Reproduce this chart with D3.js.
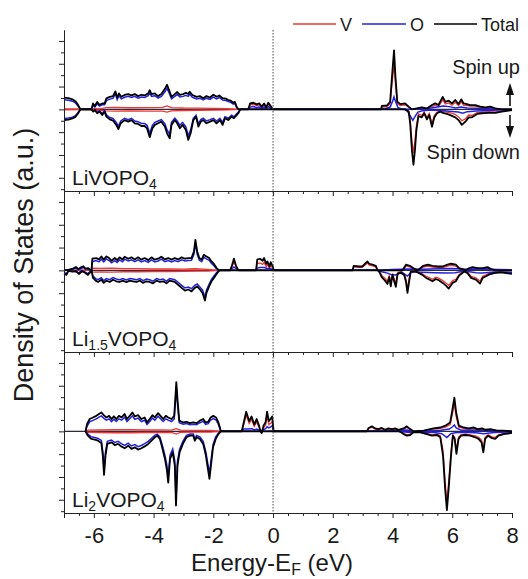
<!DOCTYPE html>
<html>
<head>
<meta charset="utf-8">
<script src="https://cdn.jsdelivr.net/npm/d3@7"></script>
<style>
  body { margin: 0; background: #fff; }
  text { font-family: "Liberation Sans", Arial, sans-serif; fill: #1a1a1a; }
</style>
</head>
<body>
<div id="chart"></div>
<script>
// [energy (eV), DOS (a.u.)] pairs; up = spin up, dn = spin down

// ---- LiVOPO4 ----
var p1TotalUp = [[-7,0.51],[-6.85,0.49],[-6.72,0.44],[-6.62,0.36],[-6.53,0.2],[-6.45,0],[-6.08,0],[-6.03,0.26],[-5.97,0.15],[-5.89,0.32],[-5.81,0.2],[-5.72,0.26],[-5.64,0.26],[-5.58,0.48],[-5.47,0.55],[-5.36,0.58],[-5.28,0.79],[-5.22,0.52],[-5.16,0.7],[-5.08,0.55],[-4.97,0.63],[-4.85,0.67],[-4.74,0.61],[-4.63,0.67],[-4.52,0.58],[-4.41,0.64],[-4.3,0.61],[-4.18,0.7],[-4.13,0.84],[-4.07,0.67],[-3.96,0.7],[-3.85,0.58],[-3.74,0.67],[-3.62,0.9],[-3.55,1.08],[-3.48,0.84],[-3.4,0.55],[-3.29,0.67],[-3.21,0.76],[-3.12,0.64],[-3.01,0.67],[-2.92,0.73],[-2.84,0.67],[-2.79,0.77],[-2.7,0.63],[-2.56,0.55],[-2.45,0.58],[-2.34,0.49],[-2.23,0.58],[-2.11,0.52],[-2,0.64],[-1.89,0.55],[-1.8,0.61],[-1.69,0.49],[-1.58,0.47],[-1.5,0.41],[-1.42,0.38],[-1.33,0.29],[-1.28,0.33],[-1.22,0.12],[-1.16,0],[-0.83,0],[-0.77,0.26],[-0.66,0.29],[-0.55,0.22],[-0.46,0.26],[-0.38,0.12],[-0.3,0.26],[-0.23,0.09],[-0.16,0.29],[-0.08,0.15],[-0.01,0],[3.62,0],[3.64,0.15],[3.81,0.17],[3.92,0.33],[3.98,1.4],[4.05,2.59],[4.1,1.4],[4.16,0.33],[4.26,0.23],[4.42,0.26],[4.54,0.12],[4.65,0],[4.98,0.09],[5.15,0.04],[5.32,0.19],[5.43,0.26],[5.54,0.19],[5.68,0.55],[5.77,0.33],[5.88,0.38],[5.99,0.26],[6.1,0.41],[6.21,0.23],[6.3,0.44],[6.38,0.26],[6.49,0.23],[6.6,0.19],[6.77,0.19],[6.94,0.12],[7.11,0.09],[7.27,0.12],[7.44,0.04],[7.66,0],[8,0]]
var p1TotalDn = [[-7,-0.47],[-6.85,-0.45],[-6.72,-0.4],[-6.62,-0.33],[-6.53,-0.18],[-6.45,0],[-6.08,0],[-6.02,-0.1],[-5.97,-0.03],[-5.89,-0.17],[-5.81,-0.1],[-5.72,-0.25],[-5.64,-0.1],[-5.58,-0.32],[-5.47,-0.44],[-5.36,-0.49],[-5.25,-0.68],[-5.18,-0.87],[-5.1,-0.61],[-4.97,-0.47],[-4.85,-0.54],[-4.74,-0.47],[-4.63,-0.61],[-4.52,-0.64],[-4.41,-0.73],[-4.3,-0.73],[-4.22,-0.83],[-4.13,-1.22],[-4.04,-0.83],[-3.96,-0.68],[-3.85,-0.61],[-3.74,-0.54],[-3.62,-0.76],[-3.55,-1.05],[-3.46,-1.27],[-3.4,-0.68],[-3.29,-0.47],[-3.21,-0.61],[-3.12,-0.83],[-3.03,-0.68],[-2.92,-0.9],[-2.84,-1.34],[-2.76,-1.05],[-2.67,-0.47],[-2.58,-0.32],[-2.5,-0.76],[-2.42,-0.54],[-2.34,-0.47],[-2.23,-0.61],[-2.11,-0.54],[-2,-0.47],[-1.89,-0.61],[-1.78,-0.47],[-1.69,-0.68],[-1.61,-0.39],[-1.5,-0.47],[-1.39,-0.32],[-1.31,-0.39],[-1.22,-0.25],[-1.16,-0.17],[-1.1,0],[4.42,0],[4.54,-0.1],[4.59,-0.6],[4.65,-1.8],[4.7,-2.43],[4.75,-1.8],[4.8,-0.9],[4.87,-0.29],[4.98,-0.35],[5.06,-0.17],[5.15,-0.44],[5.23,-0.25],[5.32,-0.76],[5.4,-0.35],[5.49,-0.17],[5.6,-0.1],[5.71,-0.17],[5.82,-0.2],[5.93,-0.25],[6.1,-0.35],[6.21,-0.47],[6.32,-0.68],[6.44,-0.54],[6.55,-0.35],[6.66,-0.35],[6.83,-0.2],[6.99,-0.17],[7.22,-0.15],[7.44,-0.15],[7.66,-0.1],[7.89,-0.06],[8,-0.03]]
var p1OUp = [[-7,0.42],[-6.85,0.4],[-6.72,0.36],[-6.62,0.29],[-6.53,0.15],[-6.45,0],[-6.08,0],[-6.03,0.18],[-5.97,0.1],[-5.89,0.24],[-5.81,0.14],[-5.72,0.2],[-5.64,0.2],[-5.58,0.38],[-5.47,0.45],[-5.36,0.48],[-5.28,0.68],[-5.22,0.43],[-5.16,0.6],[-5.08,0.46],[-4.97,0.53],[-4.85,0.57],[-4.74,0.52],[-4.63,0.57],[-4.52,0.49],[-4.41,0.54],[-4.3,0.52],[-4.18,0.6],[-4.13,0.72],[-4.07,0.57],[-3.96,0.6],[-3.85,0.49],[-3.74,0.57],[-3.62,0.77],[-3.55,0.92],[-3.48,0.72],[-3.4,0.46],[-3.29,0.57],[-3.21,0.65],[-3.12,0.54],[-3.01,0.57],[-2.92,0.62],[-2.84,0.57],[-2.79,0.66],[-2.7,0.53],[-2.56,0.46],[-2.45,0.49],[-2.34,0.41],[-2.23,0.49],[-2.11,0.44],[-2,0.54],[-1.89,0.46],[-1.8,0.52],[-1.69,0.41],[-1.58,0.39],[-1.5,0.34],[-1.42,0.31],[-1.33,0.23],[-1.28,0.26],[-1.22,0.08],[-1.16,0],[-0.83,0],[-0.77,0.1],[-0.66,0.12],[-0.55,0.08],[-0.46,0.1],[-0.38,0.05],[-0.3,0.1],[-0.23,0.04],[-0.16,0.12],[-0.08,0.06],[-0.01,0],[3.62,0],[3.75,0.03],[3.92,0.1],[4,0.35],[4.05,0.55],[4.1,0.35],[4.18,0.08],[4.3,0.02],[4.6,0],[5,0.02],[5.3,0.06],[5.5,0.1],[5.7,0.15],[5.9,0.12],[6.1,0.06],[6.3,0.1],[6.5,0.06],[6.8,0.05],[7.2,0.03],[7.6,0.01],[8,0]]
var p1ODn = [[-7,-0.4],[-6.85,-0.38],[-6.72,-0.34],[-6.62,-0.28],[-6.53,-0.14],[-6.45,0],[-6.08,0],[-6.02,-0.06],[-5.97,-0.02],[-5.89,-0.12],[-5.81,-0.06],[-5.72,-0.18],[-5.64,-0.06],[-5.58,-0.24],[-5.47,-0.36],[-5.36,-0.4],[-5.25,-0.57],[-5.18,-0.74],[-5.1,-0.51],[-4.97,-0.39],[-4.85,-0.45],[-4.74,-0.39],[-4.63,-0.51],[-4.52,-0.54],[-4.41,-0.62],[-4.3,-0.62],[-4.22,-0.7],[-4.13,-1.05],[-4.04,-0.7],[-3.96,-0.57],[-3.85,-0.51],[-3.74,-0.45],[-3.62,-0.64],[-3.55,-0.9],[-3.46,-1.1],[-3.4,-0.57],[-3.29,-0.39],[-3.21,-0.51],[-3.12,-0.7],[-3.03,-0.57],[-2.92,-0.77],[-2.84,-1.16],[-2.76,-0.9],[-2.67,-0.39],[-2.58,-0.26],[-2.5,-0.64],[-2.42,-0.45],[-2.34,-0.39],[-2.23,-0.51],[-2.11,-0.45],[-2,-0.39],[-1.89,-0.51],[-1.78,-0.39],[-1.69,-0.57],[-1.61,-0.32],[-1.5,-0.39],[-1.39,-0.26],[-1.31,-0.32],[-1.22,-0.19],[-1.16,-0.12],[-1.1,0],[4.4,0],[4.5,-0.08],[4.6,-0.3],[4.68,-0.48],[4.76,-0.3],[4.85,-0.12],[5,-0.06],[5.2,-0.04],[5.5,-0.03],[5.9,-0.08],[6.2,-0.12],[6.35,-0.17],[6.5,-0.1],[6.8,-0.07],[7.2,-0.05],[7.6,-0.03],[8,-0.01]]
var p1VUp = [[-7,0.02],[-6.45,0.01],[-6.1,0],[-5.95,0.04],[-5.8,0.02],[-5.6,0.08],[-5.3,0.09],[-4.8,0.07],[-4.2,0.08],[-3.7,0.09],[-3.55,0.15],[-3.4,0.08],[-3,0.06],[-2.5,0.05],[-2,0.04],[-1.5,0.03],[-1.16,0],[-0.83,0],[-0.77,0.2],[-0.66,0.22],[-0.55,0.17],[-0.46,0.2],[-0.38,0.08],[-0.3,0.2],[-0.23,0.06],[-0.16,0.22],[-0.08,0.1],[-0.01,0],[3.62,0],[3.64,0.1],[3.81,0.12],[3.92,0.25],[3.98,1.1],[4.05,1.95],[4.1,1.1],[4.16,0.25],[4.26,0.17],[4.42,0.2],[4.54,0.09],[4.65,0],[4.98,0.06],[5.15,0.02],[5.32,0.12],[5.43,0.18],[5.54,0.12],[5.68,0.42],[5.77,0.24],[5.88,0.28],[5.99,0.18],[6.1,0.3],[6.21,0.17],[6.3,0.33],[6.38,0.19],[6.49,0.17],[6.6,0.14],[6.77,0.14],[6.94,0.09],[7.11,0.06],[7.27,0.09],[7.44,0.03],[7.66,0],[8,0]]
var p1VDn = [[-7,-0.02],[-6.45,-0.01],[-6.1,0],[-5.95,-0.04],[-5.8,-0.03],[-5.6,-0.07],[-5.3,-0.08],[-4.8,-0.07],[-4.2,-0.08],[-3.7,-0.08],[-3.55,-0.12],[-3.4,-0.07],[-3,-0.05],[-2.5,-0.04],[-2,-0.03],[-1.5,-0.02],[-1.1,0],[4.42,0],[4.54,-0.06],[4.59,-0.45],[4.65,-1.4],[4.7,-1.92],[4.75,-1.4],[4.8,-0.7],[4.87,-0.2],[4.98,-0.27],[5.06,-0.12],[5.15,-0.35],[5.23,-0.18],[5.32,-0.62],[5.4,-0.27],[5.49,-0.12],[5.6,-0.06],[5.71,-0.1],[5.82,-0.12],[5.93,-0.15],[6.1,-0.22],[6.21,-0.33],[6.32,-0.5],[6.44,-0.42],[6.55,-0.25],[6.66,-0.27],[6.83,-0.14],[6.99,-0.12],[7.22,-0.1],[7.44,-0.11],[7.66,-0.07],[7.89,-0.04],[8,-0.02]]

// ---- Li1.5VOPO4 ----
var p2TotalUp = [[-7,0],[-6.85,0.02],[-6.7,0.08],[-6.6,0.15],[-6.52,0.05],[-6.45,0.12],[-6.35,0.18],[-6.28,0.06],[-6.2,0.1],[-6.12,0.02],[-6.08,0],[-6.05,0.51],[-5.92,0.54],[-5.83,0.48],[-5.75,0.61],[-5.67,0.47],[-5.58,0.61],[-5.49,0.54],[-5.41,0.42],[-5.3,0.54],[-5.22,0.45],[-5.14,0.57],[-5.04,0.48],[-4.97,0.6],[-4.85,0.51],[-4.74,0.57],[-4.63,0.48],[-4.52,0.57],[-4.41,0.47],[-4.3,0.54],[-4.18,0.45],[-4.07,0.57],[-3.96,0.47],[-3.85,0.51],[-3.74,0.6],[-3.62,0.48],[-3.51,0.54],[-3.4,0.47],[-3.29,0.54],[-3.18,0.48],[-3.06,0.57],[-2.95,0.51],[-2.84,0.54],[-2.73,0.54],[-2.65,0.83],[-2.6,1.34],[-2.54,0.83],[-2.47,0.54],[-2.39,0.47],[-2.32,0.68],[-2.23,0.61],[-2.14,0.54],[-2.06,0.39],[-1.98,0.28],[-1.89,0.1],[-1.8,0],[-1.44,0],[-1.38,0.2],[-1.31,0.51],[-1.24,0.2],[-1.16,0],[-0.57,0],[-0.53,0.47],[-0.44,0.51],[-0.35,0.42],[-0.3,0.54],[-0.23,0.28],[-0.19,0.39],[-0.12,0.17],[-0.08,0.36],[-0.01,0.17],[0.02,0],[2.66,0],[2.7,0.2],[2.88,0.17],[2.99,0.17],[3.08,0.29],[3.16,0.39],[3.22,0.29],[3.33,0.25],[3.44,0.2],[3.5,0],[4.34,0],[4.38,0.1],[4.45,0.25],[4.58,0.2],[4.69,0.1],[4.84,0],[5.03,0.2],[5.18,0.25],[5.34,0.2],[5.51,0.17],[5.68,0.17],[5.84,0.25],[5.96,0.29],[6.12,0.25],[6.23,0.1],[6.46,0],[6.57,0.1],[6.68,0.14],[6.85,0.1],[7.02,0.1],[7.18,0.14],[7.3,0.06],[7.46,0],[8,0]]
var p2TotalDn = [[-7,-0.15],[-6.92,-0.2],[-6.85,-0.02],[-6.72,-0.06],[-6.6,-0.02],[-6.5,-0.16],[-6.4,-0.04],[-6.3,-0.1],[-6.2,-0.2],[-6.12,-0.08],[-6.08,0],[-6.03,-0.33],[-5.94,-0.45],[-5.86,-0.51],[-5.75,-0.41],[-5.67,-0.55],[-5.58,-0.45],[-5.47,-0.51],[-5.36,-0.41],[-5.25,-0.48],[-5.14,-0.51],[-5.03,-0.45],[-4.91,-0.52],[-4.8,-0.45],[-4.69,-0.48],[-4.57,-0.51],[-4.46,-0.45],[-4.35,-0.55],[-4.24,-0.48],[-4.13,-0.51],[-4.02,-0.57],[-3.9,-0.45],[-3.79,-0.51],[-3.68,-0.48],[-3.57,-0.57],[-3.46,-0.45],[-3.29,-0.51],[-3.18,-0.63],[-3.06,-0.77],[-2.95,-0.89],[-2.84,-0.84],[-2.73,-0.92],[-2.62,-0.77],[-2.54,-0.7],[-2.45,-0.84],[-2.36,-0.99],[-2.28,-1.32],[-2.23,-0.99],[-2.14,-0.7],[-2.06,-0.48],[-1.98,-0.33],[-1.89,-0.16],[-1.8,0],[3.5,0],[3.55,-0.05],[3.64,-0.3],[3.75,-0.45],[3.83,-0.6],[3.89,-0.3],[3.94,-0.7],[4,-0.2],[4.06,-0.5],[4.11,-0.72],[4.17,-0.15],[4.28,-0.1],[4.39,-0.2],[4.45,-0.5],[4.5,-0.99],[4.56,-0.45],[4.61,-0.05],[4.78,-0.05],[5,-0.2],[5.12,-0.33],[5.23,-0.4],[5.34,-0.48],[5.45,-0.38],[5.56,-0.44],[5.68,-0.55],[5.79,-0.67],[5.88,-0.8],[6.01,-0.55],[6.12,-0.48],[6.23,-0.23],[6.4,-0.05],[6.51,-0.12],[6.63,-0.33],[6.79,-0.41],[6.93,-0.58],[7.02,-0.33],[7.13,-0.26],[7.22,-0.19],[7.4,-0.12],[7.63,-0.09],[7.8,-0.12],[8,-0.15]]
var p2OUp = [[-7,0],[-6.7,0.05],[-6.6,0.1],[-6.52,0.03],[-6.35,0.12],[-6.2,0.06],[-6.08,0],[-6.05,0.38],[-5.92,0.43],[-5.83,0.37],[-5.75,0.49],[-5.67,0.37],[-5.58,0.5],[-5.49,0.43],[-5.41,0.33],[-5.3,0.43],[-5.22,0.35],[-5.14,0.46],[-5.04,0.38],[-4.97,0.49],[-4.85,0.41],[-4.74,0.46],[-4.63,0.38],[-4.52,0.46],[-4.41,0.37],[-4.3,0.43],[-4.18,0.35],[-4.07,0.46],[-3.96,0.37],[-3.85,0.41],[-3.74,0.49],[-3.62,0.38],[-3.51,0.43],[-3.4,0.37],[-3.29,0.43],[-3.18,0.38],[-3.06,0.46],[-2.95,0.41],[-2.84,0.43],[-2.73,0.44],[-2.65,0.7],[-2.6,1.18],[-2.54,0.7],[-2.47,0.44],[-2.39,0.38],[-2.32,0.57],[-2.23,0.5],[-2.14,0.44],[-2.06,0.3],[-1.98,0.2],[-1.89,0.06],[-1.8,0],[-1.44,0],[-1.31,0.15],[-1.16,0],[-0.57,0],[-0.53,0.1],[-0.44,0.12],[-0.3,0.12],[-0.19,0.08],[-0.08,0.08],[0.02,0],[2.66,0],[3.16,0.03],[3.5,0],[4,0.04],[4.5,0.06],[5,0.05],[5.5,0.07],[6,0.08],[6.5,0.05],[7,0.06],[7.5,0.04],[8,0.02]]
var p2ODn = [[-7,-0.1],[-6.92,-0.14],[-6.85,0],[-6.5,-0.1],[-6.4,0],[-6.2,-0.14],[-6.08,0],[-6.03,-0.25],[-5.94,-0.36],[-5.86,-0.41],[-5.75,-0.32],[-5.67,-0.45],[-5.58,-0.36],[-5.47,-0.41],[-5.36,-0.32],[-5.25,-0.38],[-5.14,-0.41],[-5.03,-0.36],[-4.91,-0.42],[-4.8,-0.36],[-4.69,-0.38],[-4.57,-0.41],[-4.46,-0.36],[-4.35,-0.45],[-4.24,-0.38],[-4.13,-0.41],[-4.02,-0.47],[-3.9,-0.36],[-3.79,-0.41],[-3.68,-0.38],[-3.57,-0.47],[-3.46,-0.36],[-3.29,-0.41],[-3.18,-0.52],[-3.06,-0.66],[-2.95,-0.77],[-2.84,-0.73],[-2.73,-0.8],[-2.62,-0.66],[-2.54,-0.6],[-2.45,-0.73],[-2.36,-0.87],[-2.28,-1.18],[-2.23,-0.87],[-2.14,-0.6],[-2.06,-0.39],[-1.98,-0.25],[-1.89,-0.1],[-1.8,0],[3.5,0],[3.64,-0.06],[3.83,-0.12],[3.94,-0.18],[4.11,-0.2],[4.3,-0.08],[4.5,-0.25],[4.65,-0.06],[5,-0.08],[5.4,-0.1],[5.8,-0.12],[6.1,-0.1],[6.4,-0.03],[6.8,-0.1],[7,-0.12],[7.4,-0.07],[8,-0.08]]
var p2VUp = [[-7,0],[-6.1,0],[-6.05,0.1],[-5.8,0.09],[-5.4,0.1],[-5,0.08],[-4.5,0.08],[-4,0.06],[-3.5,0.06],[-3,0.05],[-2.6,0.07],[-2.2,0.04],[-1.8,0],[-1.44,0],[-1.31,0.35],[-1.16,0],[-0.57,0],[-0.53,0.3],[-0.44,0.33],[-0.35,0.26],[-0.3,0.35],[-0.23,0.16],[-0.19,0.25],[-0.12,0.1],[-0.08,0.22],[-0.01,0.1],[0.02,0],[2.66,0],[2.7,0.15],[2.88,0.13],[2.99,0.13],[3.08,0.23],[3.16,0.32],[3.22,0.23],[3.33,0.2],[3.44,0.15],[3.5,0],[4.34,0],[4.38,0.06],[4.45,0.2],[4.58,0.15],[4.69,0.06],[4.84,0],[5.03,0.14],[5.18,0.19],[5.34,0.14],[5.51,0.12],[5.68,0.12],[5.84,0.19],[5.96,0.22],[6.12,0.19],[6.23,0.06],[6.46,0],[6.57,0.06],[6.68,0.1],[6.85,0.06],[7.02,0.06],[7.18,0.1],[7.3,0.03],[7.46,0],[8,0]]
var p2VDn = [[-7,0],[-6.1,0],[-6.03,-0.08],[-5.8,-0.07],[-5.4,-0.08],[-5,-0.06],[-4.5,-0.06],[-4,-0.05],[-3.5,-0.05],[-3,-0.04],[-2.5,-0.03],[-2.2,-0.03],[-1.8,0],[3.5,0],[3.55,-0.03],[3.64,-0.22],[3.75,-0.35],[3.83,-0.47],[3.89,-0.22],[3.94,-0.55],[4,-0.14],[4.06,-0.4],[4.11,-0.58],[4.17,-0.1],[4.28,-0.06],[4.39,-0.15],[4.45,-0.4],[4.5,-0.8],[4.56,-0.35],[4.61,-0.03],[4.78,-0.03],[5,-0.15],[5.12,-0.26],[5.23,-0.32],[5.34,-0.39],[5.45,-0.3],[5.56,-0.35],[5.68,-0.45],[5.79,-0.55],[5.88,-0.66],[6.01,-0.45],[6.12,-0.39],[6.23,-0.18],[6.4,-0.03],[6.51,-0.08],[6.63,-0.26],[6.79,-0.33],[6.93,-0.47],[7.02,-0.26],[7.13,-0.2],[7.22,-0.14],[7.4,-0.08],[7.63,-0.06],[7.8,-0.08],[8,-0.1]]

// ---- Li2VOPO4 ----
var p3TotalUp = [[-6.28,0],[-6.23,0.32],[-6.14,0.54],[-6.03,0.61],[-5.92,0.68],[-5.83,0.76],[-5.75,0.83],[-5.67,0.71],[-5.58,0.61],[-5.49,0.68],[-5.41,0.54],[-5.33,0.66],[-5.25,0.54],[-5.16,0.68],[-5.07,0.61],[-4.97,0.76],[-4.89,0.54],[-4.8,0.68],[-4.71,0.83],[-4.63,0.66],[-4.52,0.71],[-4.41,0.54],[-4.3,0.61],[-4.22,0.39],[-4.13,0.54],[-4.04,0.71],[-3.96,0.61],[-3.85,0.8],[-3.77,0.68],[-3.68,0.54],[-3.59,0.68],[-3.51,0.61],[-3.4,0.54],[-3.31,0.68],[-3.27,1.5],[-3.24,2.16],[-3.2,1.4],[-3.14,0.47],[-3.01,0.39],[-2.9,0.42],[-2.79,0.36],[-2.67,0.39],[-2.56,0.36],[-2.45,0.47],[-2.34,0.54],[-2.26,0.39],[-2.17,0.42],[-2.09,0.61],[-2,0.68],[-1.91,0.61],[-1.83,0.39],[-1.78,0.17],[-1.75,0],[-1.05,0],[-0.98,0.4],[-0.9,0.86],[-0.8,0.45],[-0.72,0.65],[-0.63,0.3],[-0.55,0.54],[-0.47,0.25],[-0.42,0],[-0.38,-0.07],[-0.32,0.25],[-0.25,0.4],[-0.2,0.86],[-0.14,0.45],[-0.08,0.55],[-0.03,0.65],[0.02,0],[3.14,0],[3.2,0.15],[3.31,0.22],[3.42,0.13],[3.53,0.1],[3.64,0.15],[3.75,0.07],[3.86,0.13],[3.98,0.1],[4.09,0.13],[4.2,0.07],[4.37,0.13],[4.48,0.22],[4.59,0.1],[4.7,0],[5.04,0.03],[5.37,0.13],[5.6,0.17],[5.77,0.25],[5.93,0.39],[6.01,1],[6.07,1.48],[6.13,0.83],[6.22,0.25],[6.38,0.17],[6.55,0.13],[6.72,0.17],[6.85,0.1],[7,0.13],[7.11,0.07],[7.28,0.1],[7.5,0.03],[7.72,0.03],[8,0]]
var p3TotalDn = [[-6.28,0],[-6.2,-0.19],[-6.09,-0.33],[-5.97,-0.36],[-5.86,-0.41],[-5.75,-0.51],[-5.7,-1.06],[-5.66,-1.91],[-5.61,-1.06],[-5.55,-0.55],[-5.41,-0.48],[-5.3,-0.6],[-5.19,-0.55],[-5.08,-0.66],[-4.97,-0.74],[-4.85,-0.63],[-4.74,-0.77],[-4.63,-0.7],[-4.52,-0.8],[-4.41,-0.74],[-4.3,-0.66],[-4.18,-0.55],[-4.07,-0.41],[-3.96,-0.26],[-3.88,-0.19],[-3.79,-0.33],[-3.7,-0.77],[-3.62,-1.21],[-3.56,-1.65],[-3.51,-2.25],[-3.45,-1.21],[-3.36,-0.92],[-3.29,-1.5],[-3.25,-3.25],[-3.2,-1.5],[-3.13,-0.92],[-3.02,-0.55],[-2.9,-0.26],[-2.78,-0.19],[-2.67,-0.19],[-2.62,-0.41],[-2.56,-0.26],[-2.45,-0.33],[-2.34,-0.55],[-2.25,-1.06],[-2.18,-1.65],[-2.13,-2.08],[-2.08,-1.5],[-2.01,-0.7],[-1.92,-0.33],[-1.83,-0.12],[-1.75,0],[4.2,0],[4.26,-0.02],[4.37,-0.12],[4.48,-0.19],[4.59,-0.16],[4.7,-0.04],[4.93,-0.04],[5.15,-0.12],[5.32,-0.19],[5.49,-0.16],[5.6,-0.26],[5.69,-1.06],[5.76,-2.5],[5.82,-3.46],[5.88,-2.5],[5.96,-1.06],[6.02,-0.19],[6.08,-0.33],[6.14,-0.99],[6.21,-0.33],[6.29,-0.19],[6.44,-0.16],[6.6,-0.19],[6.77,-0.26],[6.88,-0.33],[6.98,-0.48],[7.04,-0.92],[7.1,-0.33],[7.2,-0.19],[7.33,-0.3],[7.44,-0.33],[7.55,-0.19],[7.72,-0.12],[8,-0.07]]
var p3OUp = [[-6.28,0],[-6.23,0.22],[-6.14,0.42],[-6.03,0.48],[-5.92,0.55],[-5.83,0.62],[-5.75,0.68],[-5.67,0.58],[-5.58,0.49],[-5.49,0.55],[-5.41,0.43],[-5.33,0.53],[-5.25,0.43],[-5.16,0.55],[-5.07,0.49],[-4.97,0.62],[-4.89,0.43],[-4.8,0.55],[-4.71,0.68],[-4.63,0.53],[-4.52,0.58],[-4.41,0.43],[-4.3,0.49],[-4.22,0.3],[-4.13,0.43],[-4.04,0.58],[-3.96,0.49],[-3.85,0.66],[-3.77,0.55],[-3.68,0.43],[-3.59,0.55],[-3.51,0.49],[-3.4,0.43],[-3.31,0.55],[-3.27,1.3],[-3.24,1.95],[-3.2,1.2],[-3.14,0.38],[-3.01,0.31],[-2.9,0.34],[-2.79,0.29],[-2.67,0.31],[-2.56,0.29],[-2.45,0.38],[-2.34,0.44],[-2.26,0.31],[-2.17,0.34],[-2.09,0.5],[-2,0.56],[-1.91,0.5],[-1.83,0.3],[-1.78,0.12],[-1.75,0],[-1.05,0],[-0.98,0.1],[-0.9,0.1],[-0.8,0.1],[-0.72,0.12],[-0.63,0.06],[-0.55,0.1],[-0.47,0.05],[-0.42,0],[-0.32,0.08],[-0.25,0.12],[-0.2,0.2],[-0.14,0.15],[-0.08,0.2],[-0.03,0.25],[0.02,0],[3.14,0],[3.5,0.03],[4,0.04],[4.48,0.06],[4.7,0],[5.2,0.02],[5.6,0.05],[5.9,0.1],[6.01,0.2],[6.07,0.28],[6.13,0.15],[6.3,0.05],[6.6,0.06],[7,0.05],[7.5,0.03],[8,0.01]]
var p3ODn = [[-6.28,0],[-6.2,-0.12],[-6.09,-0.24],[-5.97,-0.27],[-5.86,-0.31],[-5.75,-0.4],[-5.7,-0.9],[-5.66,-1.7],[-5.61,-0.9],[-5.55,-0.44],[-5.41,-0.38],[-5.3,-0.49],[-5.19,-0.44],[-5.08,-0.54],[-4.97,-0.62],[-4.85,-0.52],[-4.74,-0.64],[-4.63,-0.58],[-4.52,-0.67],[-4.41,-0.62],[-4.3,-0.54],[-4.18,-0.44],[-4.07,-0.31],[-3.96,-0.18],[-3.88,-0.12],[-3.79,-0.24],[-3.7,-0.64],[-3.62,-1.05],[-3.56,-1.45],[-3.51,-2],[-3.45,-1.05],[-3.36,-0.78],[-3.29,-1.3],[-3.25,-2.95],[-3.2,-1.3],[-3.13,-0.78],[-3.02,-0.44],[-2.9,-0.18],[-2.78,-0.12],[-2.67,-0.12],[-2.62,-0.32],[-2.56,-0.18],[-2.45,-0.24],[-2.34,-0.44],[-2.25,-0.9],[-2.18,-1.45],[-2.13,-1.85],[-2.08,-1.3],[-2.01,-0.58],[-1.92,-0.24],[-1.83,-0.07],[-1.75,0],[4.2,0],[4.5,-0.04],[5,-0.03],[5.4,-0.05],[5.65,-0.1],[5.82,-0.27],[5.95,-0.1],[6.1,-0.06],[6.3,-0.04],[6.8,-0.06],[7.05,-0.1],[7.4,-0.05],[8,-0.03]]
var p3VUp = [[-6.28,0],[-6.2,0.05],[-5.8,0.06],[-5.3,0.07],[-4.8,0.07],[-4.3,0.06],[-3.8,0.06],[-3.4,0.05],[-3.24,0.12],[-3.1,0.05],[-2.6,0.04],[-2.1,0.04],[-1.75,0],[-1.05,0],[-0.98,0.3],[-0.9,0.72],[-0.8,0.35],[-0.72,0.52],[-0.63,0.22],[-0.55,0.42],[-0.47,0.18],[-0.42,0],[-0.38,-0.05],[-0.32,0.15],[-0.25,0.28],[-0.2,0.65],[-0.14,0.3],[-0.08,0.36],[-0.03,0.42],[0.02,0],[3.14,0],[3.2,0.12],[3.31,0.18],[3.42,0.1],[3.53,0.08],[3.64,0.12],[3.75,0.05],[3.86,0.1],[3.98,0.07],[4.09,0.1],[4.2,0.05],[4.37,0.1],[4.48,0.17],[4.59,0.07],[4.7,0],[5.04,0.02],[5.37,0.1],[5.6,0.13],[5.77,0.18],[5.93,0.3],[6.01,0.8],[6.07,1.2],[6.13,0.65],[6.22,0.18],[6.38,0.13],[6.55,0.1],[6.72,0.13],[6.85,0.07],[7,0.1],[7.11,0.05],[7.28,0.07],[7.5,0.02],[7.72,0.02],[8,0]]
var p3VDn = [[-6.28,0],[-6.2,-0.04],[-5.8,-0.05],[-5.3,-0.06],[-4.8,-0.06],[-4.3,-0.05],[-3.8,-0.05],[-3.4,-0.05],[-3.24,-0.12],[-3.1,-0.04],[-2.6,-0.03],[-2.1,-0.03],[-1.75,0],[4.2,0],[4.26,-0.01],[4.37,-0.09],[4.48,-0.15],[4.59,-0.12],[4.7,-0.03],[4.93,-0.03],[5.15,-0.09],[5.32,-0.15],[5.49,-0.12],[5.6,-0.2],[5.69,-0.85],[5.76,-2.2],[5.82,-3.15],[5.88,-2.2],[5.96,-0.85],[6.02,-0.15],[6.08,-0.26],[6.14,-0.8],[6.21,-0.26],[6.29,-0.15],[6.44,-0.12],[6.6,-0.15],[6.77,-0.2],[6.88,-0.26],[6.98,-0.38],[7.04,-0.75],[7.1,-0.26],[7.2,-0.15],[7.33,-0.24],[7.44,-0.26],[7.55,-0.15],[7.72,-0.09],[8,-0.05]]

var xTickLabels = [-6, -4, -2, 0, 2, 4, 6, 8]
var legendNames = ["V", "O", "Total"]
var colors = {V: "#ee3535", O: "#2020dd", Total: "#000000"}

var panels = [
  {parts: [["Li", false], ["VOPO", false], ["4", true]], total: [p1TotalUp, p1TotalDn], o: [p1OUp, p1ODn], v: [p1VUp, p1VDn]},
  {parts: [["Li", false], ["1.5", true], ["VOPO", false], ["4", true]], total: [p2TotalUp, p2TotalDn], o: [p2OUp, p2ODn], v: [p2VUp, p2VDn]},
  {parts: [["Li", false], ["2", true], ["VOPO", false], ["4", true]], total: [p3TotalUp, p3TotalDn], o: [p3OUp, p3ODn], v: [p3VUp, p3VDn]}
]

var width = 528, height = 579
var panelTop = 30, panelH = 161

var svg = d3.select("#chart").append("svg")
  .attr("width", width)
  .attr("height", height)

var x = d3.scaleLinear().domain([-7, 8]).range([64, 512])

// minor ticks every 0.5 eV / 0.5 a.u.
var xMinor = d3.range(-7, 8.01, 0.5).filter(v => v % 2 != 0)
var yMajor = [-3, -2, -1, 0, 1, 2, 3]
var yMinor = [-3.5, -2.5, -1.5, -0.5, 0.5, 1.5, 2.5]

panels.forEach(function(p, i) {
  var top = panelTop + i * panelH
  var bottom = top + panelH
  var y = d3.scaleLinear().domain([-3.58, 3.48]).range([bottom, top])
  var g = svg.append("g")

  var line = d3.line().x(d => x(d[0])).y(d => y(d[1]))

  // zero line
  g.append("line")
    .attr("x1", x(-7)).attr("x2", x(8))
    .attr("y1", y(0)).attr("y2", y(0))
    .attr("stroke", "#2b2b3a").attr("stroke-width", 1.4)

  p.v.forEach(function(s) {
    g.append("path").datum(s).attr("d", line)
      .attr("fill", "none").attr("stroke", colors.V).attr("stroke-width", 1.3)
  })
  p.o.forEach(function(s) {
    g.append("path").datum(s).attr("d", line)
      .attr("fill", "none").attr("stroke", colors.O).attr("stroke-width", 1.5)
  })
  p.total.forEach(function(s) {
    g.append("path").datum(s).attr("d", line)
      .attr("fill", "none").attr("stroke", colors.Total).attr("stroke-width", 1.8)
      .attr("stroke-linejoin", "round")
  })

  // left axis
  g.append("g")
    .attr("transform", "translate(" + x(-7) + ",0)")
    .call(d3.axisLeft(y).tickValues(yMajor).tickSize(5).tickSizeOuter(0).tickFormat(""))
  g.append("g")
    .attr("transform", "translate(" + x(-7) + ",0)")
    .call(d3.axisLeft(y).tickValues(yMinor).tickSize(3).tickSizeOuter(0).tickFormat(""))

  // bottom axis
  var xa = g.append("g")
    .attr("transform", "translate(0," + bottom + ")")
    .call(d3.axisBottom(x).tickValues(xTickLabels.concat([-7])).tickSize(5).tickSizeOuter(0)
      .tickPadding(9)
      .tickFormat(i == 2 ? (d => d == -7 ? "" : String(d)) : ""))
  xa.selectAll("text").attr("font-size", 22).style("font-family", "'Liberation Sans', Arial, sans-serif").attr("fill", "#1a1a1a")
  g.append("g")
    .attr("transform", "translate(0," + bottom + ")")
    .call(d3.axisBottom(x).tickValues(xMinor).tickSize(3).tickSizeOuter(0).tickFormat(""))

  svg.selectAll(".domain, .tick line").attr("stroke", "#222")

  // panel label with subscripts
  var lab = g.append("text")
    .attr("x", 72)
    .attr("y", bottom - 6)
    .attr("font-size", 21)
  var wasSub = false
  p.parts.forEach(function(pt) {
    var t = lab.append("tspan").text(pt[0])
    if (pt[1]) {
      t.attr("font-size", 14).attr("dy", 4)
    } else if (wasSub) {
      t.attr("dy", -4)
    }
    wasSub = pt[1]
  })
})

// Fermi level
svg.append("line")
  .attr("x1", x(0)).attr("x2", x(0))
  .attr("y1", panelTop).attr("y2", panelTop + 3 * panelH)
  .attr("stroke", "#444").attr("stroke-width", 1)
  .attr("stroke-dasharray", "1.5,1.5")

// legend
var legendX = [[293, 336, 340], [362, 406, 410], [434, 477, 481]]
legendNames.forEach(function(n, i) {
  svg.append("line")
    .attr("x1", legendX[i][0]).attr("x2", legendX[i][1])
    .attr("y1", 24).attr("y2", 24)
    .attr("stroke", colors[n]).attr("stroke-width", 1.5)
  svg.append("text")
    .attr("x", legendX[i][2]).attr("y", 31)
    .attr("font-size", 18)
    .text(n)
})

// spin annotations
svg.append("text").attr("x", 520).attr("y", 74).attr("text-anchor", "end")
  .attr("font-size", 20).text("Spin up")
svg.append("text").attr("x", 520).attr("y", 159).attr("text-anchor", "end")
  .attr("font-size", 20).text("Spin down")
svg.append("line").attr("x1", 510).attr("x2", 510).attr("y1", 106).attr("y2", 92)
  .attr("stroke", "#111").attr("stroke-width", 1.6)
svg.append("polygon").attr("points", "510,83 506,95 514,95").attr("fill", "#111")
svg.append("line").attr("x1", 510).attr("x2", 510).attr("y1", 115).attr("y2", 128)
  .attr("stroke", "#111").attr("stroke-width", 1.6)
svg.append("polygon").attr("points", "510,138 506,126 514,126").attr("fill", "#111")

// axis titles
svg.append("text")
  .attr("transform", "translate(33,265) rotate(-90)")
  .attr("text-anchor", "middle")
  .attr("font-size", 27)
  .text("Density of States (a.u.)")

var xt = svg.append("text")
  .attr("x", 272).attr("y", 571)
  .attr("text-anchor", "middle")
  .attr("font-size", 24)
xt.append("tspan").text("Energy-E")
xt.append("tspan").attr("font-size", 16).attr("dy", 4).text("F")
xt.append("tspan").attr("dy", -4).text(" (eV)")
</script>
</body>
</html>
